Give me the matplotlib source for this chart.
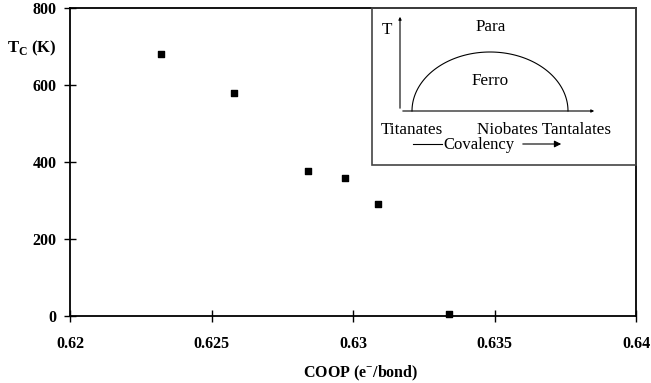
import numpy as np
import matplotlib.pyplot as plt
from matplotlib.patches import Rectangle

plt.rcParams['font.family'] = ['Liberation Serif', 'DejaVu Serif']

# data
coop = [0.6232, 0.6258, 0.6284, 0.6297, 0.6309, 0.6334]
tc = [680, 579, 377, 358, 291, 5]

xticks = [0.62, 0.625, 0.63, 0.635, 0.64]
xtick_labels = ['0.62', '0.625', '0.63', '0.635', '0.64']
yticks = [0, 200, 400, 600, 800]

W, H = 651, 383
fig = plt.figure(figsize=(W / 100, H / 100), dpi=100)
ax = fig.add_axes([70 / W, 1 - 316 / H, (636 - 70) / W, (316 - 8) / H])

ax.scatter(coop, tc, marker='s', s=20, color='black', zorder=3, clip_on=False)

ax.set_xlim(0.62, 0.64)
ax.set_ylim(0, 800)
ax.set_xticks(xticks)
ax.set_xticklabels(xtick_labels)
ax.set_yticks(yticks)
ax.tick_params(direction='inout', length=9, width=1, labelsize=11.5)
ax.tick_params(axis='x', pad=10)
ax.tick_params(axis='y', pad=5)
for lab in ax.get_xticklabels() + ax.get_yticklabels():
    lab.set_fontweight('bold')
for sp in ax.spines.values():
    sp.set_linewidth(1.3)

ax.set_xlabel('COOP (e$^{\\mathregular{-}}$/bond)', fontsize=11.5, fontweight='bold')
ax.xaxis.set_label_coords(0.513, -0.155)
fig.text(7 / W, 1 - 48 / H, 'T$_{\\mathregular{C}}$ (K)', fontsize=12, fontweight='bold',
         ha='left', va='center')

# inset schematic, drawn in pixel-like coordinates
ins = fig.add_axes([372 / W, 1 - 165 / H, (636 - 372) / W, (165 - 8) / H])
ins.set_xlim(372, 636)
ins.set_ylim(165, 8)
ins.axis('off')
ins.add_patch(Rectangle((372, 8), 264, 157, fill=False, edgecolor='#444444', lw=1.2, clip_on=False))

ins.annotate('', xy=(400, 14), xytext=(400, 111),
             arrowprops=dict(arrowstyle='-|>', color='black', lw=0.8, mutation_scale=4))
ins.annotate('', xy=(597, 111), xytext=(400, 111),
             arrowprops=dict(arrowstyle='-|>', color='black', lw=0.8, mutation_scale=4))

th = np.linspace(0, np.pi, 100)
ins.plot(490 + 78 * np.cos(th), 111 - 59 * np.sin(th), color='black', lw=0.8)

fs = 12.3
ins.text(387, 30, 'T', fontsize=fs, ha='center', va='center')
ins.text(491, 27, 'Para', fontsize=fs, ha='center', va='center')
ins.text(490, 81, 'Ferro', fontsize=fs, ha='center', va='center')
ins.text(381, 130, 'Titanates', fontsize=fs, ha='left', va='center')
ins.text(477, 130, 'Niobates Tantalates', fontsize=fs, ha='left', va='center')
ins.plot([413, 442], [144, 144], color='black', lw=0.8)
ins.text(443, 145, 'Covalency', fontsize=12, ha='left', va='center')
ins.annotate('', xy=(564, 144), xytext=(520, 144),
             arrowprops=dict(arrowstyle='-|>', color='black', lw=0.8, mutation_scale=10))

fig.savefig('out.png', dpi=100)
